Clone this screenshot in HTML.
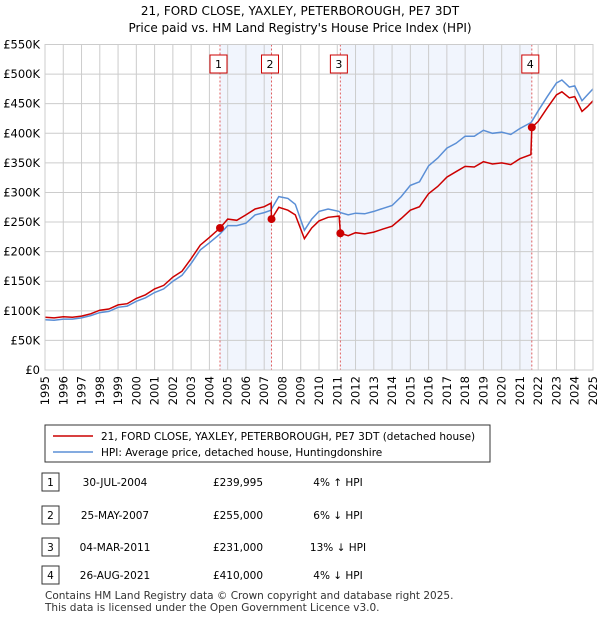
<!DOCTYPE html>
<html><head><meta charset="utf-8"><style>
body{margin:0;background:#fff;font-family:"Liberation Sans","DejaVu Sans",sans-serif;}
svg text{font-family:"DejaVu Sans","Liberation Sans",sans-serif;}
</style></head><body>
<svg width="600" height="620" viewBox="0 0 600 620" xmlns="http://www.w3.org/2000/svg">
<text x="300" y="15" text-anchor="middle" font-size="12">21, FORD CLOSE, YAXLEY, PETERBOROUGH, PE7 3DT</text>
<text x="300" y="32" text-anchor="middle" font-size="12">Price paid vs. HM Land Registry's House Price Index (HPI)</text>
<g id="plot"></g>
<g>
<rect x="45" y="425" width="445" height="37" fill="#fff" stroke="#333"/>
<line x1="53" y1="436" x2="93" y2="436" stroke="#cc0000" stroke-width="1.5"/>
<text x="101" y="440" font-size="10.5">21, FORD CLOSE, YAXLEY, PETERBOROUGH, PE7 3DT (detached house)</text>
<line x1="53" y1="452" x2="93" y2="452" stroke="#5b8fd6" stroke-width="1.5"/>
<text x="101" y="456" font-size="10.5">HPI: Average price, detached house, Huntingdonshire</text>
</g>
<g id="table" font-size="10.5"></g>
<text x="45" y="599" font-size="10.5" fill="#333">Contains HM Land Registry data © Crown copyright and database right 2025.</text>
<text x="45" y="611" font-size="10.5" fill="#333">This data is licensed under the Open Government Licence v3.0.</text>
</svg>
<script>
const years=[1995,1996,1997,1998,1999,2000,2001,2002,2003,2004,2005,2006,2007,2008,2009,2010,2011,2012,2013,2014,2015,2016,2017,2018,2019,2020,2021,2022,2023,2024,2025];
const yTicks=[0,50,100,150,200,250,300,350,400,450,500,550];
const hpiT=[1995,1995.5,1996,1996.5,1997,1997.5,1998,1998.5,1999,1999.5,2000,2000.5,2001,2001.5,2002,2002.5,2003,2003.5,2004,2004.58,2005,2005.5,2006,2006.5,2007,2007.38,2007.4,2007.8,2008.3,2008.7,2009.2,2009.6,2010,2010.5,2011.1,2011.17,2011.6,2012,2012.5,2013,2013.5,2014,2014.5,2015,2015.5,2016,2016.5,2017,2017.5,2018,2018.5,2019,2019.5,2020,2020.5,2021,2021.6,2021.65,2022,2022.5,2023,2023.3,2023.7,2024,2024.4,2024.7,2025];
const hpiV=[85,84,86,86,88,92,97,99,106,108,116,122,131,137,150,160,180,203,215,230,244,244,248,262,266,270,272,293,290,280,236,255,268,272,268,266,262,265,264,268,273,278,293,312,318,345,358,375,383,395,395,405,400,402,398,408,418,420,438,462,485,490,478,480,455,465,475];
const redV=[89,88,90,89,91,95,101,103,110,112,121,127,137,143,157,167,188,211,224,240,255,253,262,272,276,282,255,275,270,262,222,240,252,258,260,231,227,232,230,233,238,243,256,270,276,298,310,326,335,344,343,352,348,350,347,357,364,410,420,443,465,470,460,462,437,445,455];
const saleLabels=["1","2","3","4"];
const saleT=[2004.58,2007.4,2011.17,2021.65];
const saleV=[239.995,255,231,410];
const saleDates=["30-JUL-2004","25-MAY-2007","04-MAR-2011","26-AUG-2021"];
const salePrices=["£239,995","£255,000","£231,000","£410,000"];
const saleHpi=["4% ↑ HPI","6% ↓ HPI","13% ↓ HPI","4% ↓ HPI"];
const X0=45,X1=593,Y0=370,Y1=44.5;
const xs=t=>X0+(t-1995)/30*(X1-X0);
const ys=v=>Y0-v/550*(Y0-Y1);
const NS="http://www.w3.org/2000/svg";
const plot=document.getElementById('plot');
function mk(tag,at,parent){const e=document.createElementNS(NS,tag);for(const k in at)e.setAttribute(k,at[k]);(parent||plot).appendChild(e);return e;}
// shading
for(let i=0;i<saleT.length;i+=2){
 const r=mk('rect',{x:xs(saleT[i]),y:Y1,width:xs(saleT[i+1])-xs(saleT[i]),height:Y0-Y1,fill:'#eef3fc',opacity:0.8});
 
 
}
// grid
years.forEach(y=>{
 const l=mk('line',{x1:xs(y),x2:xs(y),y1:Y1,y2:Y0,stroke:'#ccc','stroke-width':1});
 
 
 const tx=xs(y)+4,ty=Y0+6;
 const t=mk('text',{x:tx,y:ty,'font-size':11.5,'text-anchor':'end',transform:`rotate(-90 ${tx} ${ty})`});
 t.textContent=y;
 
 
});
yTicks.forEach(v=>{
 const l=mk('line',{x1:X0,x2:X1,y1:ys(v),y2:ys(v),stroke:'#ccc','stroke-width':1});
 
 
 const t=mk('text',{x:40,y:ys(v)+4,'font-size':11.5,'text-anchor':'end'});
 t.textContent=v===0?'£0':'£'+v+'K';
 
 
});
// sale vlines
saleT.forEach(s=>{
 const l=mk('line',{x1:xs(s),x2:xs(s),y1:Y1,y2:Y0,stroke:'#e06060','stroke-width':1,'stroke-dasharray':'2,2'});
 
 
});
const pts=a=>hpiT.map((t,i)=>xs(t).toFixed(1)+','+ys(a[i]).toFixed(1)).join(' ');
const hl=mk('polyline',{points:pts(hpiV),fill:'none',stroke:'#5b8fd6','stroke-width':1.5});


const rl=mk('polyline',{points:pts(redV),fill:'none',stroke:'#cc0000','stroke-width':1.5});


saleT.forEach((s,i)=>{
 const c=mk('circle',{cx:xs(s),cy:ys(saleV[i]),r:4,fill:'#cc0000'});
 
 
 const bx=xs(s)-9;
 const b=mk('rect',{x:bx-1,y:55,width:17,height:18,fill:'#fff',stroke:'#cc0000'});
 
 
 const t=mk('text',{x:bx+7.5,y:68,'font-size':11,'text-anchor':'middle'});
 t.textContent=saleLabels[i];
 
 
});
const ax=mk('rect',{x:X0,y:Y1,width:X1-X0,height:Y0-Y1,fill:'none',stroke:'#ccc'});


// table
const tb=document.getElementById('table');
const rowY=[482,515,547,575];
saleLabels.forEach((l,i)=>{
 const y=rowY[i];
 const b=mk('rect',{x:42,y:y-9,width:17,height:18,fill:'#fff',stroke:'#333'},tb);
 
 
 const vals=[[50.5,l,'middle'],[115,saleDates[i],'middle'],[238,salePrices[i],'middle'],[338,saleHpi[i],'middle']];
 vals.forEach((v,j)=>{
  const t=mk('text',{x:v[0],y:y+4,'text-anchor':v[2]},tb);
  t.textContent=v[1];
  
  
 });
});
</script>
</body></html>
